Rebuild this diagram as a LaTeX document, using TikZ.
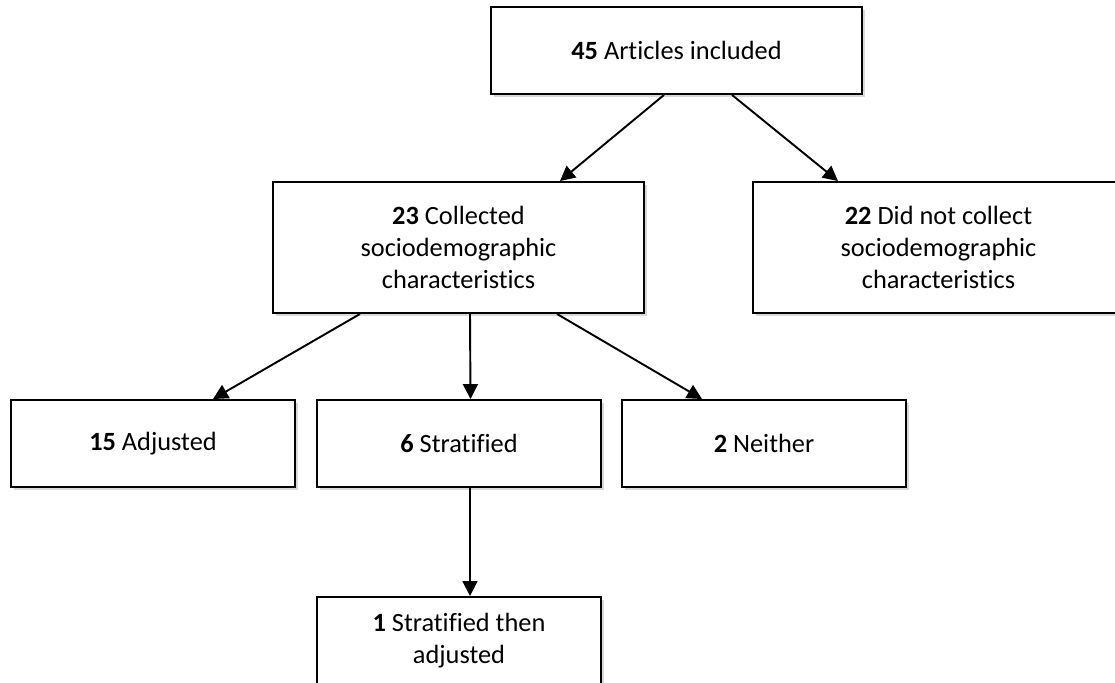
\documentclass[tikz,border=0pt]{standalone}
\usepackage{fontspec}
\setmainfont{Carlito}[Ligatures=NoCommon]
\usetikzlibrary{arrows.meta,shadows}

\begin{document}
\begin{tikzpicture}
		\tikzset{countbox/.style={draw, line width=1.1pt, fill=white, inner sep=0pt, align=center,
				font=\fontsize{15}{18.4}\selectfont,
				drop shadow={shadow xshift=1.6pt, shadow yshift=-1.6pt, opacity=0.3}},
			widebox/.style={countbox, minimum width=7.42cm},
			rowbox/.style={countbox, minimum width=5.68cm, minimum height=1.74cm},
			flowarrow/.style={-{Triangle[length=8.5pt,width=8.5pt]}, line width=1.1pt}};
		\clip (0,0) rectangle (22.3,-13.66);
		\node[widebox, minimum height=1.74cm] (top) at (13.53,-1.01) {\textbf{45} Articles included};
		\node[widebox, minimum height=2.62cm] (c23) at (9.17,-4.95) {\textbf{23} Collected\\ sociodemographic\\ characteristics};
		\node[widebox, minimum height=2.62cm] (c22) at (18.77,-4.95) {\textbf{22} Did not collect\\ sociodemographic\\ characteristics};
		\node[rowbox] (a15) at (3.06,-8.87) {\textbf{15} Adjusted};
		\node[rowbox] (s6) at (9.18,-8.87) {\textbf{6} Stratified};
		\node[rowbox] (n2) at (15.28,-8.87) {\textbf{2} Neither};
		\node[rowbox] (b1) at (9.18,-12.81) {\textbf{1} Stratified then\\ adjusted};
		\draw[flowarrow] ([xshift=-0.25cm]top.south) -- ([xshift=2.03cm]c23.north);
		\draw[flowarrow] ([xshift=1.11cm]top.south) -- ([xshift=-2.01cm]c22.north);
		\draw[flowarrow] ([xshift=-1.97cm]c23.south) -- ([xshift=1.2cm]a15.north);
		\draw[flowarrow] ([xshift=0.23cm]c23.south) -- ([xshift=0.23cm]s6.north);
		\draw[flowarrow] ([xshift=1.97cm]c23.south) -- ([xshift=-1.24cm]n2.north);
		\draw[flowarrow] ([xshift=0.22cm]s6.south) -- ([xshift=0.22cm]b1.north);
	\end{tikzpicture}
\end{document}
